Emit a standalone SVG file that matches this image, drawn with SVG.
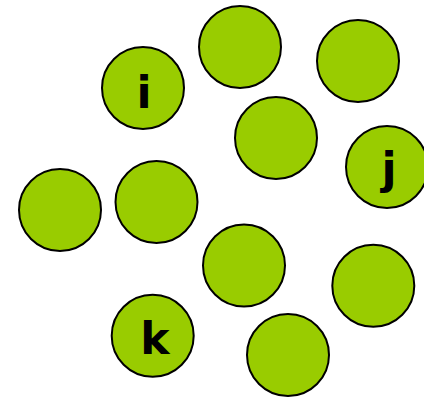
<svg xmlns="http://www.w3.org/2000/svg" width="424" height="400" viewBox="0 0 424 400">
<style>
.n{fill:#99cc00;stroke:#000;stroke-width:2}
.t{font-family:"Comic Sans MS","DejaVu Sans",sans-serif;font-weight:bold;font-size:44px;fill:#000;text-anchor:middle}
</style>
<rect width="424" height="400" fill="#fff"/>
<g id="connectors"></g>
<g id="node-i"><circle class="n" cx="143" cy="88" r="41"/><text class="t" x="144" y="108">i</text></g>
<g id="node-a"><circle class="n" cx="240" cy="47" r="41"/></g>
<g id="node-b"><circle class="n" cx="358" cy="61" r="41"/></g>
<g id="node-c"><circle class="n" cx="276" cy="138" r="41"/></g>
<g id="node-j"><circle class="n" cx="387" cy="167" r="41"/><text class="t" x="389" y="184">j</text></g>
<g id="node-d"><circle class="n" cx="60" cy="210" r="41"/></g>
<g id="node-e"><circle class="n" cx="156.5" cy="202" r="41"/></g>
<g id="node-f"><circle class="n" cx="244" cy="265.5" r="41"/></g>
<g id="node-g"><circle class="n" cx="373.3" cy="285.7" r="41"/></g>
<g id="node-k"><circle class="n" cx="152.7" cy="335.7" r="41"/><text class="t" x="155" y="354">k</text></g>
<g id="node-h"><circle class="n" cx="288" cy="355" r="41"/></g>
</svg>
